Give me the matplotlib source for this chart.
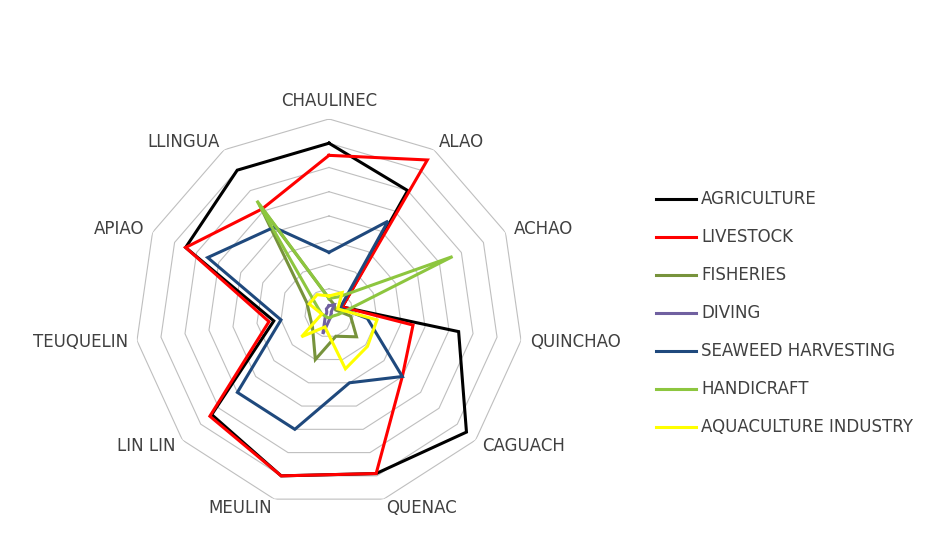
import numpy as np
import matplotlib
matplotlib.use("Agg")
import matplotlib.pyplot as plt

# categories, clockwise from the top
villages = ["CHAULINEC", "ALAO", "ACHAO", "QUINCHAO", "CAGUACH", "QUENAC",
            "MEULIN", "LIN LIN", "TEUQUELIN", "APIAO", "LLINGUA"]

# values (scale 0-8, one unit per ring)
agriculture = [7.0, 6.0, 0.6, 5.4, 7.5, 6.9, 7.0, 6.4, 2.3, 6.5, 7.0]
livestock = [6.5, 7.5, 0.6, 3.5, 4.0, 6.9, 7.0, 6.5, 2.5, 6.5, 5.1]
fisheries = [0.6, 0.4, 0.3, 0.9, 1.5, 1.0, 2.0, 0.9, 0.8, 1.0, 5.3]
diving = [0.3, 0.4, 0.1, 0.1, 0.1, 0.2, 0.9, 0.2, 0.1, 0.1, 0.2]
seaweed = [2.5, 4.5, 0.5, 1.6, 4.0, 3.0, 5.0, 5.0, 2.0, 5.5, 4.2]
handicraft = [0.6, 0.8, 5.6, 0.4, 0.2, 0.2, 0.2, 0.2, 0.3, 0.5, 5.5]
aquaculture = [0.7, 1.0, 0.4, 2.0, 2.1, 2.4, 0.6, 1.5, 0.3, 0.9, 0.9]

series = [
    ("AGRICULTURE", agriculture, "#000000"),
    ("LIVESTOCK", livestock, "#FF0000"),
    ("FISHERIES", fisheries, "#77933C"),
    ("DIVING", diving, "#7060A0"),
    ("SEAWEED HARVESTING", seaweed, "#1F497D"),
    ("HANDICRAFT", handicraft, "#8DC63F"),
    ("AQUACULTURE INDUSTRY", aquaculture, "#FFFF00"),
]
rings = 8

n = len(villages)
angles = np.linspace(0, 2 * np.pi, n, endpoint=False)
closed = np.append(angles, angles[0])

fig = plt.figure(figsize=(9.29, 5.33), dpi=100)
ax = fig.add_axes([0.1453, 0.0488, 0.4177, 0.728], projection="polar")
ax.set_theta_zero_location("N")
ax.set_theta_direction(-1)
ax.set_ylim(0, rings)
ax.grid(False)
ax.spines["polar"].set_visible(False)
ax.set_xticks([])
ax.set_yticks([])
ax.patch.set_alpha(0)

# polygon gridlines
for r in range(1, rings + 1):
    ax.plot(closed, [r] * (n + 1), color="#BFBFBF", lw=0.8, zorder=1)

for name, vals, col in series:
    ax.plot(closed, list(vals) + [vals[0]], color=col, lw=2.2, label=name,
            zorder=3, solid_joinstyle="miter")

# category labels
for a, lab in zip(angles, villages):
    s = np.sin(a)
    if s > 0.1:
        ha = "left"
    elif s < -0.1:
        ha = "right"
    else:
        ha = "center"
    va = "bottom" if np.cos(a) > 0.95 else "center"
    ax.text(a, rings * 1.045, lab, ha=ha, va=va, fontsize=12,
            color="#404040", clip_on=False)

fig.legend(loc="upper left", bbox_to_anchor=(0.69, 0.671), frameon=False,
           fontsize=12, handlelength=2.4, handletextpad=0.3,
           labelspacing=1.2, labelcolor="#404040")

fig.savefig("out.png", dpi=100)
